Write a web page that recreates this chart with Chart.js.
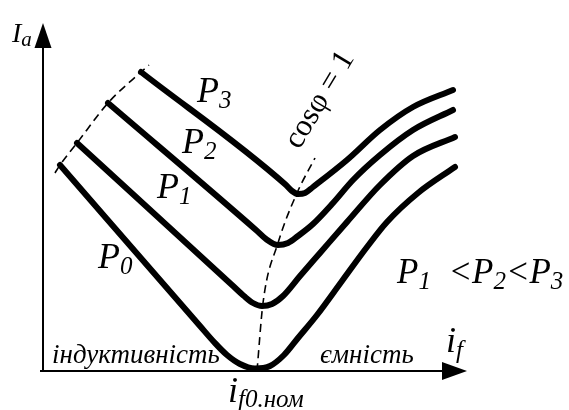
<!DOCTYPE html>
<html>
<head>
<meta charset="utf-8">
<script src="https://cdn.jsdelivr.net/npm/chart.js@4.4.0/dist/chart.umd.min.js"></script>
<style>
  html, body { margin: 0; padding: 0; background: #fff; }
  canvas { display: block; }
</style>
</head>
<body>
<canvas id="vcurves" width="569" height="410"></canvas>
<script>
// U-shaped curves Ia(if) of the synchronous motor for several loads
// x - excitation current if, y - armature current Ia (relative units)
var p0x = [1.7, 15.7, 17.1, 18.4, 19.7, 21.2, 22.7, 24.1, 25.5, 27.4, 29.9, 32.4, 34.4, 37.5, 41.2];
var p0y = [20.6, 4.5, 2.9, 1.6, 0.7, 0.25, 0.5, 1.6, 3.3, 5.6, 9.0, 12.4, 14.9, 17.8, 20.4];

var p1x = [3.4, 18.9, 20.1, 21.0, 21.9, 22.9, 24.0, 25.7, 27.7, 30.4, 33.7, 37.0, 41.2];
var p1y = [22.8, 8.6, 7.5, 6.8, 6.5, 6.7, 7.5, 9.5, 11.8, 14.9, 18.6, 21.5, 23.4];

var p2x = [6.5, 21.3, 22.3, 23.5, 24.5, 25.5, 27.0, 29.0, 31.0, 33.7, 37.0, 41.0];
var p2y = [26.8, 14.1, 13.2, 12.6, 12.8, 13.5, 14.7, 16.8, 19.1, 21.6, 24.1, 26.1];

var p3x = [9.8, 24.3, 24.9, 25.5, 26.2, 27.0, 30.4, 33.7, 37.0, 41.0];
var p3y = [29.9, 18.6, 18.0, 17.7, 17.8, 18.4, 21.1, 24.1, 26.4, 28.1];

// cos(phi) = 1 line through the minimums
var cosx = [21.4, 22.0, 23.5, 25.4, 27.2];
var cosy = [0, 6.8, 12.8, 17.8, 21.3];

// stability limit through the curve starts
var limx = [1.2, 1.7, 3.4, 6.5, 9.8, 10.6];
var limy = [19.8, 20.6, 22.8, 26.8, 29.9, 30.6];

function pts(xs, ys) {
  var out = [];
  for (var i = 0; i < xs.length; i++) out.push({x: xs[i], y: ys[i]});
  return out;
}

function curve(xs, ys) {
  return {
    data: pts(xs, ys),
    borderColor: '#000',
    borderWidth: 6,
    borderCapStyle: 'round',
    borderJoinStyle: 'round',
    cubicInterpolationMode: 'monotone',
    pointRadius: 0,
    fill: false
  };
}

function dashed(xs, ys) {
  return {
    data: pts(xs, ys),
    borderColor: '#000',
    borderWidth: 1.6,
    borderDash: [8, 5],
    cubicInterpolationMode: 'monotone',
    pointRadius: 0,
    fill: false
  };
}

var serif = '"Liberation Serif", "Times New Roman", serif';

// italic text in pieces: [string, size, baseline shift]
function rich(ctx, x, y, parts) {
  var cx = x;
  parts.forEach(function(p) {
    ctx.font = 'italic ' + p[1] + 'px ' + serif;
    ctx.fillText(p[0], cx, y + (p[2] || 0));
    cx += ctx.measureText(p[0]).width;
  });
}

var decor = {
  id: 'decor',
  afterDatasetsDraw: function(chart) {
    var ctx = chart.ctx;
    var xs = chart.scales.x, ys = chart.scales.y;
    var X = function(v) { return xs.getPixelForValue(v); };
    var Y = function(v) { return ys.getPixelForValue(v); };
    var ox = X(0), oy = Y(0);

    ctx.save();
    ctx.strokeStyle = '#000';
    ctx.fillStyle = '#000';
    ctx.lineWidth = 2;

    // axes
    ctx.beginPath();
    ctx.moveTo(ox, oy);
    ctx.lineTo(ox, Y(32.3));
    ctx.moveTo(X(-0.3), oy);
    ctx.lineTo(X(39.9), oy);
    ctx.stroke();

    // arrow heads
    ctx.beginPath();
    ctx.moveTo(ox, Y(34.8));
    ctx.lineTo(ox - 8.5, Y(32.3));
    ctx.lineTo(ox + 8.5, Y(32.3));
    ctx.closePath();
    ctx.fill();
    ctx.beginPath();
    ctx.moveTo(X(42.4), oy);
    ctx.lineTo(X(39.9), oy - 9);
    ctx.lineTo(X(39.9), oy + 9);
    ctx.closePath();
    ctx.fill();

    ctx.textAlign = 'left';
    ctx.textBaseline = 'alphabetic';

    rich(ctx, X(-3.1), Y(32.9), [['I', 28], ['a', 21, 4]]);
    rich(ctx, X(5.5), Y(10.3), [['P', 36], ['0', 25, 6]]);
    rich(ctx, X(11.4), Y(17.3), [['P', 36], ['1', 25, 6]]);
    rich(ctx, X(13.9), Y(21.8), [['P', 36], ['2', 25, 6]]);
    rich(ctx, X(15.4), Y(26.9), [['P', 36], ['3', 25, 6]]);
    rich(ctx, X(35.4), Y(8.8), [['P', 35], ['1', 25, 6], ['  <', 35], ['P', 35], ['2', 25, 6], ['<', 35], ['P', 35], ['3', 25, 6]]);

    rich(ctx, X(0.9), Y(0.8), [['індуктивність', 27]]);
    rich(ctx, X(27.7), Y(0.8), [['ємність', 27]]);
    rich(ctx, X(40.3), Y(1.9), [['i', 36], ['f', 25, 6]]);
    rich(ctx, X(18.5), Y(-3.1), [['i', 36], ['f0.', 25, 5], ['ном', 25, 5]]);

    // cos(phi) = 1 label along the dashed line
    ctx.translate(X(27.7), Y(27.1));
    ctx.rotate(-59 * Math.PI / 180);
    ctx.textAlign = 'center';
    ctx.textBaseline = 'middle';
    ctx.font = '31px ' + serif;
    ctx.fillText('cosφ = 1', 0, 0);
    ctx.restore();
  }
};

new Chart(document.getElementById('vcurves'), {
  type: 'line',
  data: {
    datasets: [
      curve(p0x, p0y),
      curve(p1x, p1y),
      curve(p2x, p2y),
      curve(p3x, p3y),
      dashed(cosx, cosy),
      dashed(limx, limy)
    ]
  },
  options: {
    responsive: false,
    animation: false,
    layout: { padding: 0 },
    plugins: { legend: { display: false }, tooltip: { enabled: false } },
    scales: {
      x: { type: 'linear', min: -4.3, max: 52.6, display: false },
      y: { type: 'linear', min: -3.9, max: 37.1, display: false }
    }
  },
  plugins: [decor]
});
</script>
</body>
</html>
